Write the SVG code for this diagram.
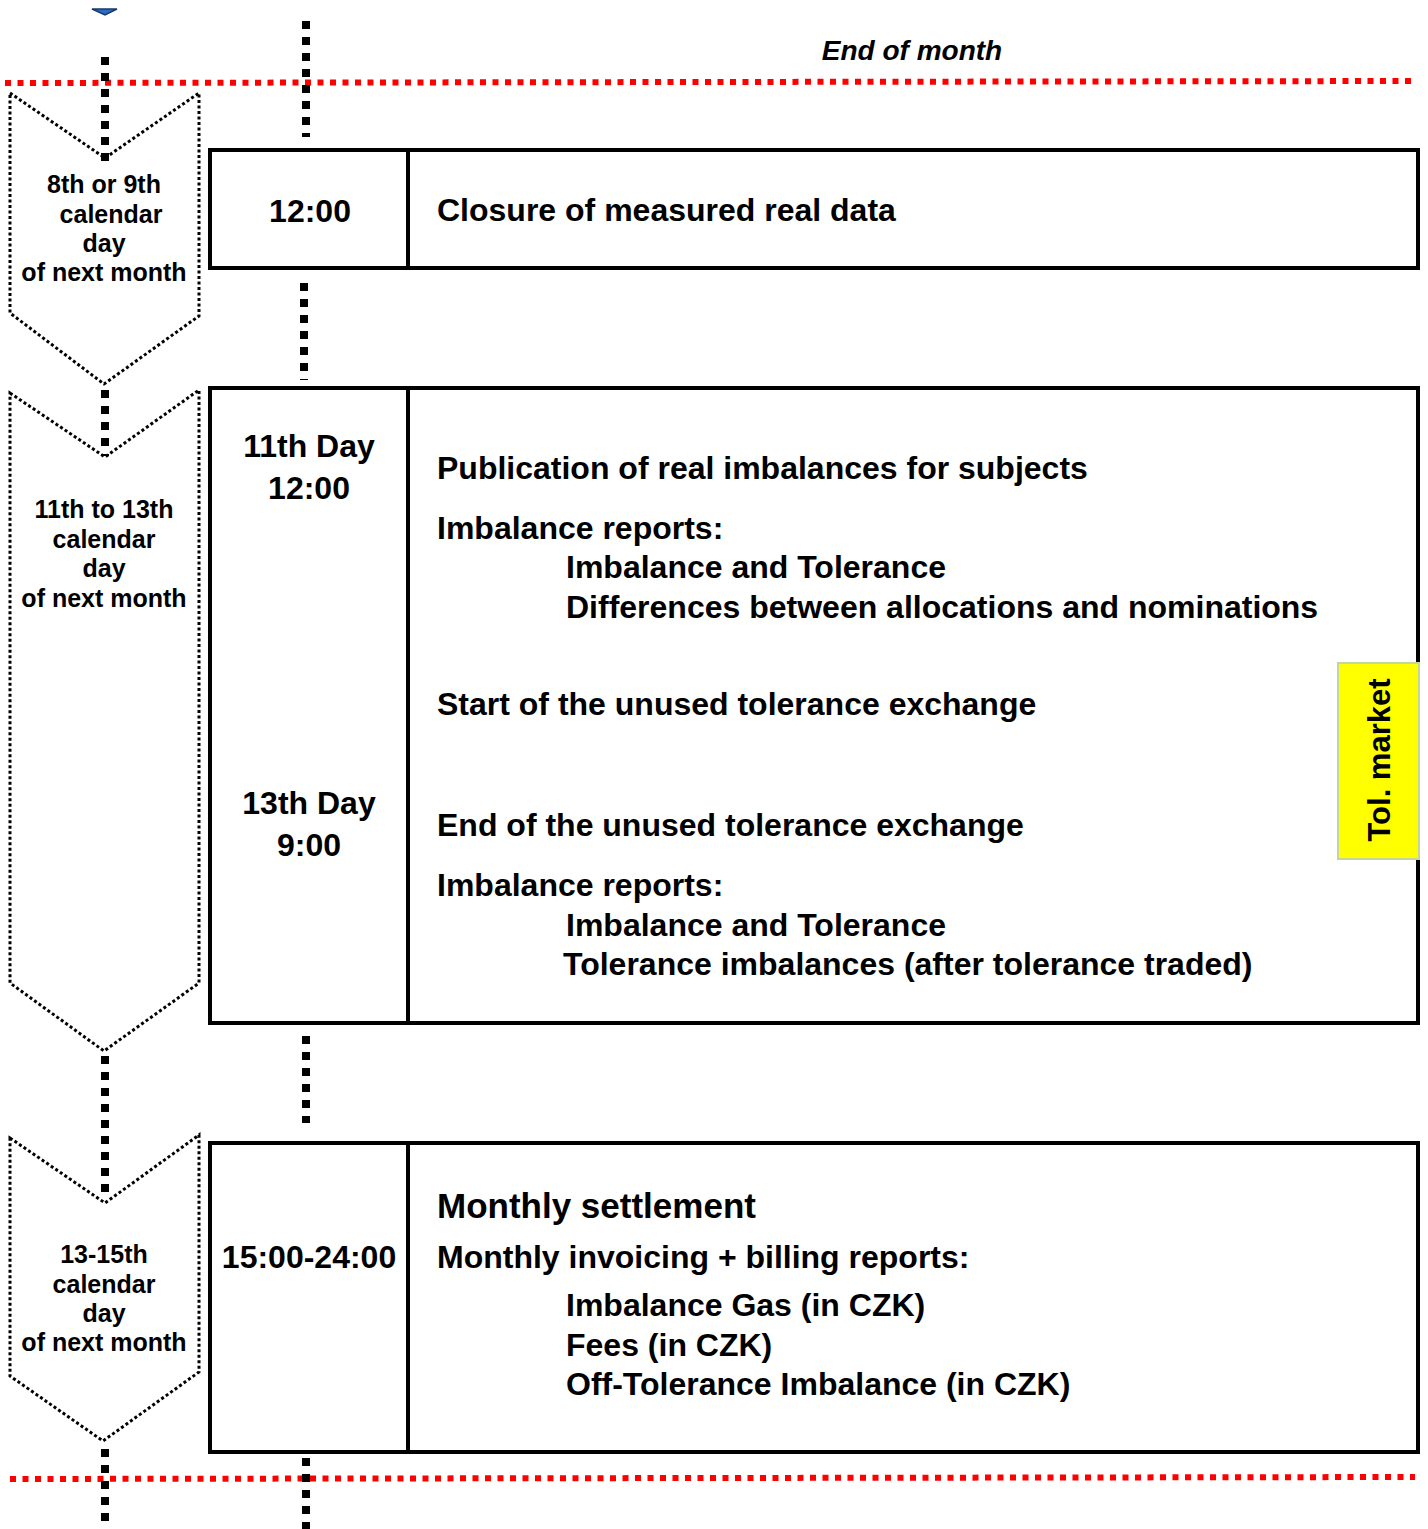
<svg xmlns="http://www.w3.org/2000/svg" width="1428" height="1529" viewBox="0 0 1428 1529">
<style>
text{font-family:"Liberation Sans",Arial,sans-serif;font-weight:bold;fill:#000}
.chev{fill:none;stroke:#000;stroke-width:3;stroke-dasharray:3 2.5}
.vdot{fill:none;stroke:#000;stroke-width:8;stroke-dasharray:8 8}
.red{fill:none;stroke:#f00;stroke-width:6;stroke-dasharray:6 6.5}
.box{fill:#fff;stroke:#000;stroke-width:4}
.ct{font-size:25px;text-anchor:middle}
.tt{font-size:32px;text-anchor:middle}
.mt{font-size:32px}
</style>
<rect width="1428" height="1529" fill="#fff"/>
<g id="connectors">
<line class="red" x1="5" y1="83" x2="1412" y2="81"/>
<line class="red" x1="10" y1="1479" x2="1415" y2="1477"/>
<line class="vdot" x1="105" y1="57" x2="105" y2="162"/>
<line class="vdot" x1="306" y1="21" x2="306" y2="137"/>
<line class="vdot" x1="304" y1="283" x2="304" y2="380"/>
<line class="vdot" x1="105" y1="390" x2="105" y2="456"/>
<line class="vdot" x1="306" y1="1036" x2="306" y2="1123"/>
<line class="vdot" x1="105" y1="1056" x2="105" y2="1192"/>
<line class="vdot" x1="105" y1="1449" x2="105" y2="1529"/>
<line class="vdot" x1="306" y1="1458" x2="306" y2="1529"/>
<polygon points="92,9 117,9 105,15" fill="#2a6cc4" stroke="#1a3a6a" stroke-width="1.5"/>
</g>
<g id="endofmonth"><text x="912" y="60" style="font-size:28px;font-style:italic" text-anchor="middle">End of month</text></g>
<g id="chevron1">
<polygon class="chev" points="10,93 105,158 199,93 199,316 104,384 10,313"/>
<text class="ct" x="104" y="193">8th or 9th</text>
<text class="ct" x="111" y="223">calendar</text>
<text class="ct" x="104" y="252">day</text>
<text class="ct" x="104" y="281">of next month</text>
</g>
<g id="chevron2">
<polygon class="chev" points="10,393 105,457 199,390 199,983 104,1051 10,983"/>
<text class="ct" x="104" y="518">11th to 13th</text>
<text class="ct" x="104" y="547.5">calendar</text>
<text class="ct" x="104" y="577">day</text>
<text class="ct" x="104" y="606.5">of next month</text>
</g>
<g id="chevron3">
<polygon class="chev" points="10,1138 105,1203 199,1135 199,1372 103,1441 10,1376"/>
<text class="ct" x="104" y="1263">13-15th</text>
<text class="ct" x="104" y="1293">calendar</text>
<text class="ct" x="104" y="1322">day</text>
<text class="ct" x="104" y="1351">of next month</text>
</g>
<g id="box1">
<rect class="box" x="210" y="150" width="1208" height="118"/>
<line x1="408" y1="150" x2="408" y2="268" stroke="#000" stroke-width="4"/>
<text class="tt" x="310" y="222">12:00</text>
<text class="mt" x="437" y="221">Closure of measured real data</text>
</g>
<g id="box2">
<rect class="box" x="210" y="388" width="1208" height="635"/>
<line x1="408" y1="388" x2="408" y2="1023" stroke="#000" stroke-width="4"/>
<text class="tt" x="309" y="457">11th Day</text>
<text class="tt" x="309" y="499">12:00</text>
<text class="tt" x="309" y="814">13th Day</text>
<text class="tt" x="309" y="856">9:00</text>
<text class="mt" x="437" y="479">Publication of real imbalances for subjects</text>
<text class="mt" x="437" y="539">Imbalance reports:</text>
<text class="mt" x="566" y="578">Imbalance and Tolerance</text>
<text class="mt" x="566" y="618">Differences between allocations and nominations</text>
<text class="mt" x="437" y="715">Start of the unused tolerance exchange</text>
<text class="mt" x="437" y="836">End of the unused tolerance exchange</text>
<text class="mt" x="437" y="896">Imbalance reports:</text>
<text class="mt" x="566" y="936">Imbalance and Tolerance</text>
<text class="mt" x="563" y="975">Tolerance imbalances (after tolerance traded)</text>
</g>
<g id="tolmarket">
<rect x="1338" y="663" width="81" height="196" fill="#ff0" stroke="#c4d79b" stroke-width="2"/>
<text transform="translate(1390,760) rotate(-90)" text-anchor="middle" style="font-size:31px">Tol. market</text>
</g>
<g id="box3">
<rect class="box" x="210" y="1143" width="1208" height="309"/>
<line x1="408" y1="1143" x2="408" y2="1452" stroke="#000" stroke-width="4"/>
<text class="tt" x="309" y="1268">15:00-24:00</text>
<text x="437" y="1218" style="font-size:35px">Monthly settlement</text>
<text class="mt" x="437" y="1268">Monthly invoicing + billing reports:</text>
<text class="mt" x="566" y="1316">Imbalance Gas (in CZK)</text>
<text class="mt" x="566" y="1356">Fees (in CZK)</text>
<text class="mt" x="566" y="1395">Off-Tolerance Imbalance (in CZK)</text>
</g>
</svg>
